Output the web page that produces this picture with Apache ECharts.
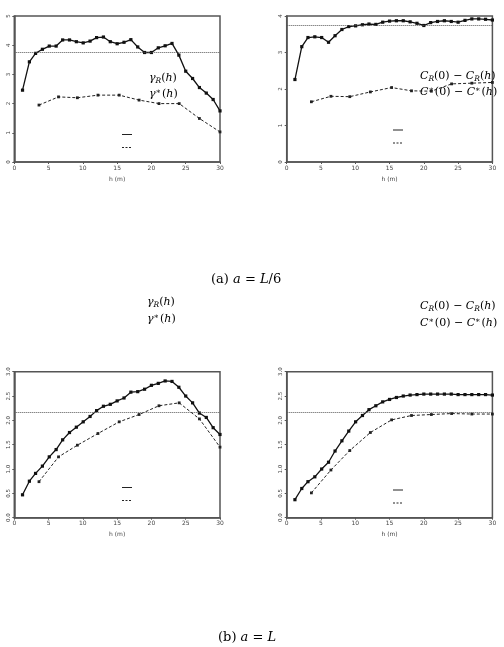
<!DOCTYPE html>
<html>
<head>
<meta charset="utf-8">
<script src="https://cdn.jsdelivr.net/npm/echarts@6/dist/echarts.min.js"></script>
<style>
  html, body { margin: 0; padding: 0; background: #fff; }
  #chart { width: 504px; height: 647px; }
</style>
</head>
<body>
<div id="chart"></div>
<script>
// lags (m)
var hSolid = [1.2, 2.2, 3.1, 4.1, 5.1, 6.1, 7.05, 8.05, 9.05, 10.05, 11.05, 12, 13, 14, 15, 16, 17, 18, 19, 20, 21, 22, 23, 24, 25, 26, 27, 28, 29, 30];
var hDashed = [3.6, 6.45, 9.2, 12.2, 15.3, 18.2, 21.1, 24.05, 27, 30];

// (a) a = L/6
var gammaRA = [2.46, 3.43, 3.72, 3.86, 3.97, 3.97, 4.18, 4.18, 4.12, 4.08, 4.14, 4.26, 4.28, 4.12, 4.05, 4.10, 4.19, 3.94, 3.75, 3.75, 3.91, 3.98, 4.06, 3.66, 3.11, 2.86, 2.55, 2.36, 2.14, 1.75];
var gammaStarA = [1.95, 2.23, 2.20, 2.29, 2.29, 2.12, 2.00, 2.00, 1.49, 1.03];
var covRA = [2.26, 3.16, 3.41, 3.43, 3.41, 3.28, 3.46, 3.63, 3.71, 3.73, 3.76, 3.78, 3.77, 3.83, 3.86, 3.87, 3.87, 3.84, 3.80, 3.74, 3.82, 3.85, 3.87, 3.85, 3.83, 3.88, 3.92, 3.92, 3.91, 3.89];
var covStarA = [1.65, 1.80, 1.79, 1.92, 2.04, 1.95, 1.94, 2.14, 2.16, 2.18];

// (b) a = L
var gammaRB = [0.47, 0.75, 0.91, 1.06, 1.25, 1.40, 1.60, 1.75, 1.86, 1.97, 2.08, 2.20, 2.29, 2.33, 2.40, 2.46, 2.58, 2.59, 2.64, 2.72, 2.76, 2.81, 2.80, 2.68, 2.50, 2.36, 2.15, 2.06, 1.85, 1.71];
var gammaStarB = [0.74, 1.25, 1.49, 1.73, 1.97, 2.12, 2.30, 2.36, 2.03, 1.45];
var covRB = [0.37, 0.60, 0.74, 0.84, 1.00, 1.14, 1.37, 1.58, 1.78, 1.97, 2.10, 2.22, 2.30, 2.38, 2.43, 2.47, 2.50, 2.52, 2.53, 2.54, 2.54, 2.54, 2.54, 2.54, 2.53, 2.53, 2.53, 2.53, 2.53, 2.52];
var covStarB = [0.51, 0.98, 1.38, 1.75, 2.01, 2.10, 2.12, 2.14, 2.13, 2.13];

// sill (horizontal reference line) for each panel
var sills = [3.75, 3.74, 2.17, 2.16];
var yMax = [5, 4, 3, 3];
var yStep = [1, 1, 0.5, 0.5];

var panels = [
    {left: 14.3, top: 16, solid: gammaRA, dashed: gammaStarA},
    {left: 286.7, top: 16, solid: covRA, dashed: covStarA},
    {left: 14.3, top: 371.7, solid: gammaRB, dashed: gammaStarB},
    {left: 286.7, top: 371.7, solid: covRB, dashed: covStarB}
];

function pairs(xs, ys) {
    return xs.map(function (x, i) { return [x, ys[i]]; });
}

var axisCol = '#555';
var grids = [], xAxes = [], yAxes = [], series = [];

panels.forEach(function (p, i) {
    grids.push({
        left: p.left, top: p.top, width: 205.7, height: 146,
        show: true, borderColor: axisCol, borderWidth: 1.5, backgroundColor: 'transparent'
    });
    xAxes.push({
        gridIndex: i, type: 'value', min: 0, max: 30, interval: 5,
        name: 'h (m)', nameLocation: 'middle', nameGap: 14,
        nameTextStyle: {fontSize: 6, color: '#444', fontFamily: 'DejaVu Sans'},
        axisLine: {lineStyle: {color: axisCol, width: 1.5}},
        axisTick: {show: true, length: 2, lineStyle: {color: axisCol}},
        axisLabel: {fontSize: 6, color: '#444', margin: 3, fontFamily: 'DejaVu Sans'},
        splitLine: {show: false}
    });
    yAxes.push({
        gridIndex: i, type: 'value', min: 0, max: yMax[i], interval: yStep[i],
        axisLine: {show: true, lineStyle: {color: axisCol, width: 1.5}},
        axisTick: {show: true, length: 2, lineStyle: {color: axisCol}},
        axisLabel: {
            fontSize: 5.5, color: '#444', rotate: 90, margin: 3, fontFamily: 'DejaVu Sans',
            formatter: function (v) { return i < 2 ? String(v) : v.toFixed(1); }
        },
        splitLine: {show: false}
    });
    series.push({
        type: 'line', xAxisIndex: i, yAxisIndex: i,
        data: pairs(hSolid, p.solid),
        symbol: 'rect', symbolSize: 3.2, showSymbol: true,
        lineStyle: {color: '#111', width: 1.3},
        itemStyle: {color: '#111'},
        animation: false,
        markLine: {
            silent: true, symbol: ['none', 'none'], label: {show: false},
            lineStyle: {color: '#555', type: 'dotted', width: 1},
            data: [{yAxis: sills[i]}]
        }
    });
    series.push({
        type: 'line', xAxisIndex: i, yAxisIndex: i,
        data: pairs(hDashed, p.dashed),
        symbol: 'rect', symbolSize: 2.8, showSymbol: true,
        lineStyle: {color: '#222', width: 1, type: [3, 2]},
        itemStyle: {color: '#222'},
        animation: false
    });
});

var mathFont = 'DejaVu Serif';
var rich = {
    i: {fontFamily: mathFont, fontStyle: 'italic', fontSize: 11, color: '#333'},
    n: {fontFamily: mathFont, fontSize: 11, color: '#333'},
    sub: {fontFamily: mathFont, fontStyle: 'italic', fontSize: 7.5, color: '#333', verticalAlign: 'bottom', padding: [5, 0, 0, 0]},
    sup: {fontFamily: mathFont, fontSize: 8, color: '#333', verticalAlign: 'top', padding: [0, 1, 4, 0]},
    cap: {fontFamily: mathFont, fontSize: 13, color: '#222'},
    capi: {fontFamily: mathFont, fontStyle: 'italic', fontSize: 13, color: '#222'}
};

function label(x, y, text) {
    return {type: 'text', left: x, top: y, style: {text: text, rich: rich}};
}

var gammaR = '{i|γ}{sub|R}{n|(}{i|h}{n|)}';
var gammaS = '{i|γ}{sup|∗}{n|(}{i|h}{n|)}';
var covR = '{i|C}{sub|R}{n|(0) − }{i|C}{sub|R}{n|(}{i|h}{n|)}';
var covS = '{i|C}{sup|∗}{n|(0) − }{i|C}{sup|∗}{n|(}{i|h}{n|)}';

function key(x, y, dashed) {
    return {
        type: 'line', shape: {x1: x, y1: y, x2: x + 10, y2: y},
        style: {stroke: '#222', lineWidth: 1, lineDash: dashed ? [2, 1.5] : null}
    };
}

var graphics = [
    label(149, 73, gammaR), label(149, 88, gammaS),
    key(122, 134.5, false), key(122, 147.5, true),
    label(420, 71, covR), label(420, 86, covS),
    key(393, 130, false), key(393, 143, true),
    label(147, 297, gammaR), label(147, 313, gammaS),
    key(122, 487.5, false), key(122, 500.5, true),
    label(420, 301, covR), label(420, 317, covS),
    key(393, 490, false), key(393, 503, true),
    label(211, 273, '{cap|(a) }{capi|a}{cap| = }{capi|L}{cap|/6}'),
    label(218, 631, '{cap|(b) }{capi|a}{cap| = }{capi|L}')
];

var myChart = echarts.init(document.getElementById('chart'), null, {renderer: 'canvas'});
myChart.setOption({
    animation: false,
    backgroundColor: '#fff',
    grid: grids,
    xAxis: xAxes,
    yAxis: yAxes,
    series: series,
    graphic: graphics
});
</script>
</body>
</html>
